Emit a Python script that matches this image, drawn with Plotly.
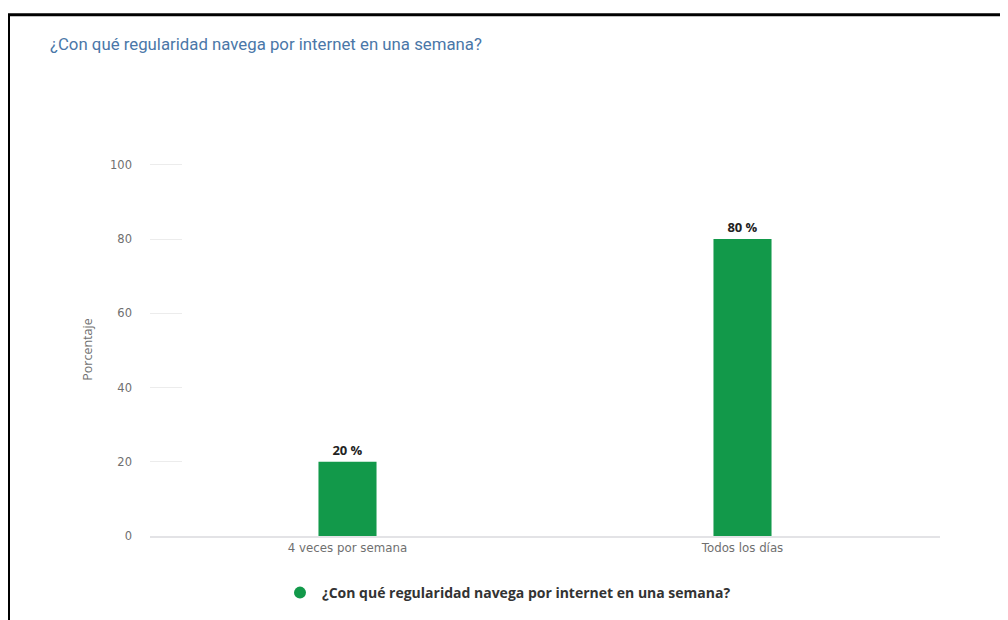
import plotly.graph_objects as go

categories = ["4 veces por semana", "Todos los días"]
values = [20, 80]
labels = ["20 %", "80 %"]
series_name = "¿Con qué regularidad navega por internet en una semana?"
title_text = "¿Con qué regularidad navega por internet en una semana?"
y_ticks = [0, 20, 40, 60, 80, 100]
y_range = [0, 100.5]

GREEN = "#12994a"
OFF = 8  # page body margin

fig = go.Figure()
fig.add_trace(go.Bar(
    x=categories, y=values, text=labels, textposition="outside",
    textfont=dict(family="Open Sans, Arial", size=13, color="#222222", weight="bold"),
    marker=dict(color=GREEN, line=dict(width=0)),
    width=0.147, showlegend=False, cliponaxis=False,
))
fig.add_trace(go.Scatter(
    x=categories, y=[None, None], mode="markers", name=series_name,
    marker=dict(color=GREEN, size=14, symbol="circle"), showlegend=True,
))

FW, FH = 1008 - OFF, 620 - OFF
# screen pixel geometry of plot area
SX0, SX1 = 150, 940
SY0 = 537  # value 0
SY100 = 165  # value 100
ppu = (SY0 - SY100) / 100.0
SYTOP = SY0 - ppu * y_range[1]
L = SX0 - OFF
R = FW - (SX1 - OFF)
T = SYTOP - OFF
B = FH - (SY0 - OFF)
W = SX1 - SX0
H = SY0 - SYTOP

def px_x(p):
    return (p - SX0) / W

def px_y(p):
    return (SY0 - p) / H

fig.update_layout(
    width=FW, height=FH,
    margin=dict(l=L, r=R, t=T, b=B, pad=0),
    paper_bgcolor="white", plot_bgcolor="white",
    title=dict(text=title_text, x=(50 - OFF) / FW, xref="container", xanchor="left",
               y=1 - (44 - OFF) / FH, yref="container", yanchor="middle",
               font=dict(family="Roboto, Arial", size=16.8, color="#4a77a8")),
    xaxis=dict(showgrid=False, showline=True, linecolor="#e3e3e6", linewidth=2,
               ticks="", tickfont=dict(family="DejaVu Sans, Arial", size=11.8, color="#6f6f6f"),
               range=[-0.5, 1.5], fixedrange=True),
    yaxis=dict(range=y_range, tickvals=y_ticks, showgrid=False, zeroline=False,
               ticks="inside", ticklen=32, tickcolor="#ececec", tickwidth=1,
               showline=False, ticklabelstandoff=17,
               tickfont=dict(family="DejaVu Sans, Arial", size=11.5, color="#6f6f6f"),
               title=dict(text="Porcentaje", standoff=14,
                          font=dict(family="Open Sans, Arial", size=12.5, color="#6f6f6f"))),
    legend=dict(orientation="h", x=px_x(507), xanchor="center", y=px_y(593), yanchor="middle",
                font=dict(family="Open Sans, Arial", size=14, color="#333333", weight="bold"),
                itemsizing="constant", itemwidth=34),
    shapes=[
        dict(type="path", xref="paper", yref="paper",
             path=f"M {px_x(8.5)} {px_y(700)} L {px_x(8.5)} {px_y(14.5)} L {px_x(1100)} {px_y(14.5)}",
             line=dict(color="black", width=3)),
    ],
)

fig.write_html("out.html")
